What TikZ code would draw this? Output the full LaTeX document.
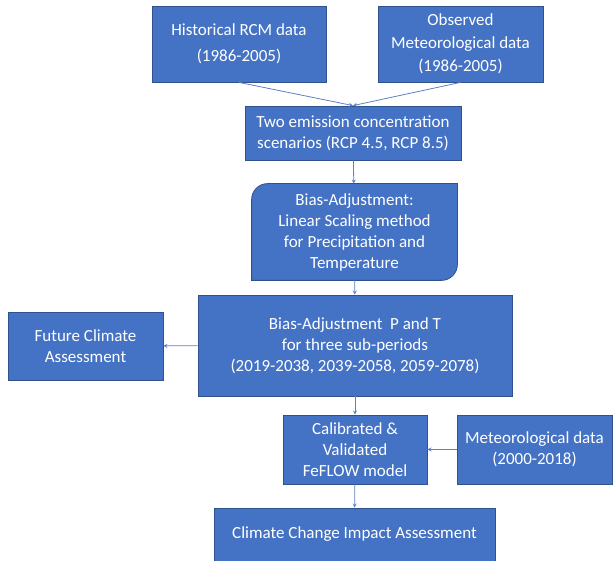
\documentclass[tikz,border=0pt]{standalone}
\usepackage{fontspec}
\setmainfont{Carlito}
\usepackage{tikz}
\usepackage{xcolor}
\usetikzlibrary{positioning, arrows, backgrounds}

\definecolor{boxblue}{HTML}{4472C4}
\definecolor{boxedge}{HTML}{2F528F}
\definecolor{linkblue}{HTML}{5B80C4}

\begin{document}
\begin{tikzpicture}[
            x=1pt, y=-1pt,
            box/.style={rectangle, draw=boxedge, fill=boxblue, line width=0.8pt, text=white,
                align=center, inner sep=0pt, font=\fontsize{17}{21}\selectfont},
            link/.style={->, >=stealth, draw=linkblue, line width=0.8pt},
        ]
            \useasboundingbox (0,0) rectangle (616,561);
            \node[box, minimum width=174pt, minimum height=76pt] (hist) at (239,44) {Historical RCM data\\[5pt](1986-2005)};
            \node[box, minimum width=165pt, minimum height=76pt] (obs) at (460.5,44) {Observed\\[2pt]Meteorological data\\[2pt](1986-2005)};
            \node[box, minimum width=216pt, minimum height=54pt] (rcp) at (353,133) {Two emission concentration\\scenarios (RCP 4.5, RCP 8.5)};
            \node[box, draw=none, fill=none, minimum width=205pt, minimum height=96pt] (scaling) at (354.5,232) {Bias-Adjustment:\\Linear Scaling method\\for Precipitation and\\Temperature};
            \begin{scope}[on background layer]
                \draw[draw=boxedge, fill=boxblue, line width=0.8pt] (scaling.south west) -- ([yshift=-16pt]scaling.north west)
                    arc[start angle=180, end angle=90, radius=16pt] -- (scaling.north east)
                    -- ([yshift=16pt]scaling.south east) arc[start angle=0, end angle=-90, radius=16pt] -- cycle;
            \end{scope}
            \node[box, minimum width=314pt, minimum height=101pt] (periods) at (355,345.5) {Bias-Adjustment~ P and T\\for three sub-periods\\(2019-2038, 2039-2058, 2059-2078)};
            \node[box, minimum width=155pt, minimum height=68pt] (future) at (85.5,346) {Future Climate\\Assessment};
            \node[box, minimum width=144pt, minimum height=69pt] (feflow) at (355,449.5) {Calibrated \&\\Validated\\FeFLOW model};
            \node[box, minimum width=155pt, minimum height=69pt] (meteo) at (534.5,449.5) {Meteorological data\\(2000-2018)};
            \node[box, minimum width=281pt, minimum height=53pt] (impact) at (354.5,534.5) {Climate Change Impact Assessment};

            % connectors
            \draw[link] (hist.south) -- (rcp.north);
            \draw[link] (obs.south) -- (rcp.north);
            \draw[link] (rcp) -- (scaling);
            \draw[link] (scaling) -- (periods);
            \draw[link] (periods) -- (future);
            \draw[link] (periods) -- (feflow);
            \draw[link] (meteo) -- (feflow);
            \draw[link] (feflow) -- (impact);
        \end{tikzpicture}
\end{document}
